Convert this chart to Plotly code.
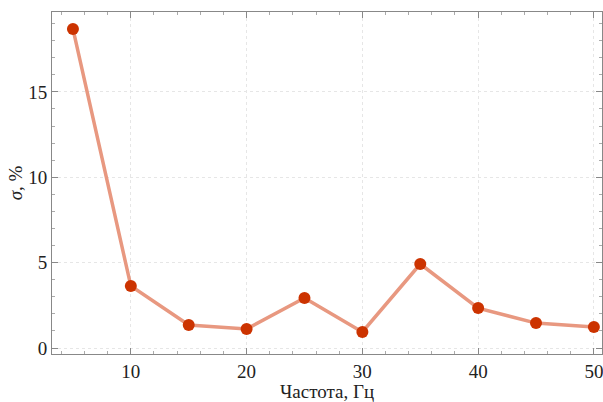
import plotly.graph_objects as go

freq = [5, 10, 15, 20, 25, 30, 35, 40, 45, 50]
sigma = [18.69, 3.63, 1.35, 1.11, 2.93, 0.94, 4.92, 2.34, 1.46, 1.23]
x_ticks = [10, 20, 30, 40, 50]
y_ticks = [0, 5, 10, 15]

FONT = "Liberation Serif, Times New Roman, DejaVu Serif, serif"

fig = go.Figure()
fig.add_trace(go.Scatter(x=freq, y=sigma, mode="lines",
                         line=dict(color="rgb(232,152,128)", width=3.5),
                         hoverinfo="skip", showlegend=False))
fig.add_trace(go.Scatter(x=freq, y=sigma, mode="markers",
                         marker=dict(color="rgb(204,51,0)", size=12),
                         showlegend=False))

axis_common = dict(
    showline=True, linecolor="#888", linewidth=1, mirror="ticks",
    ticks="inside", ticklen=6, tickcolor="#888", tickwidth=1,
    showgrid=True, gridcolor="#e6e6e6", griddash="dot", gridwidth=1,
    zeroline=False, ticklabeloverflow="allow",
    tickfont=dict(family=FONT, size=19, color="#222"),
)
fig.update_xaxes(range=[3.19, 50.7], tickvals=x_ticks,
                 minor=dict(dtick=2, tick0=0, ticks="inside", ticklen=3, tickcolor="#aaa", showgrid=False),
                 title=dict(text="Частота, Гц", font=dict(family=FONT, size=19, color="#222"), standoff=5),
                 **axis_common)
fig.update_yaxes(range=[-0.35, 19.68], tickvals=y_ticks,
                 minor=dict(dtick=1, tick0=0, ticks="inside", ticklen=3, tickcolor="#aaa", showgrid=False),
                 title=dict(text="<i>σ</i>, %", font=dict(family=FONT, size=19, color="#222"), standoff=0),
                 **axis_common)
fig.update_layout(width=603, height=402, margin=dict(l=52, r=1, t=12, b=48),
                  plot_bgcolor="white", paper_bgcolor="white")
fig.write_html("out.html")
